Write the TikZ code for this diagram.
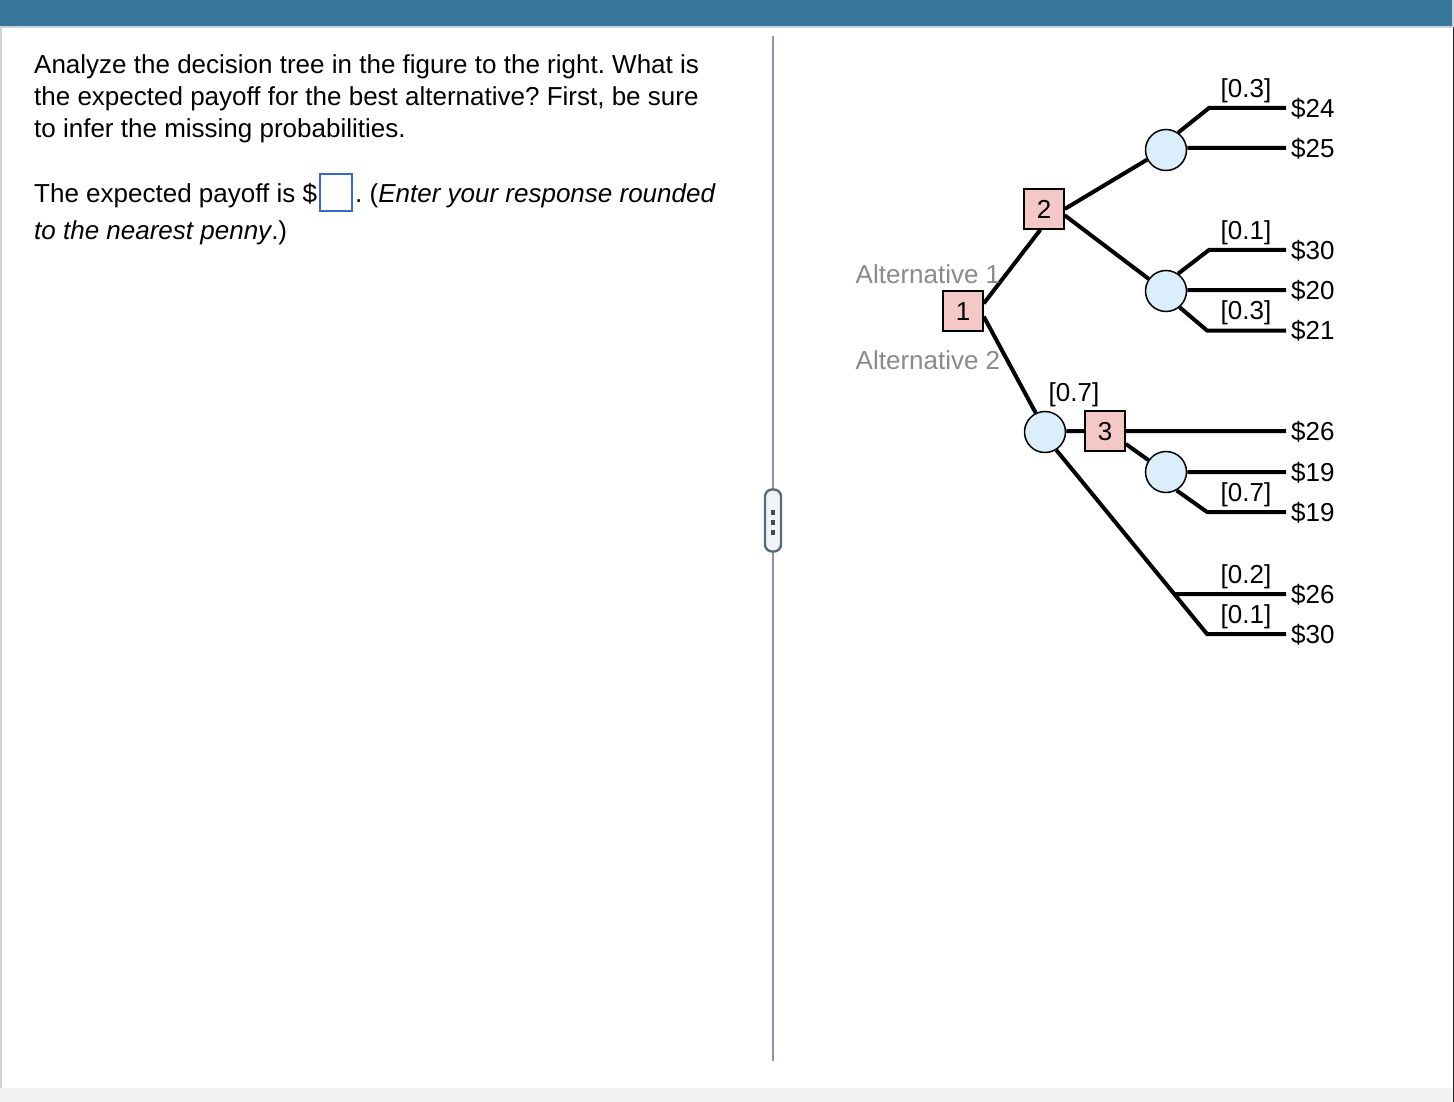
\documentclass[tikz,border=0pt]{standalone}
\usepackage{fontspec}
\setmainfont{Liberation Sans}
\definecolor{bandblue}{HTML}{37779A}
\definecolor{bandline}{HTML}{C9D2DF}
\definecolor{sidebar}{HTML}{CED3E0}
\definecolor{footgray}{HTML}{F2F2F2}
\definecolor{rulegray}{HTML}{8C93A5}
\definecolor{handleedge}{HTML}{5C6B7C}
\definecolor{handlefill}{HTML}{F2F3F5}
\definecolor{answerblue}{HTML}{3B66C4}
\definecolor{boxpink}{HTML}{F5C8C8}
\definecolor{circblue}{HTML}{DAEEFB}
\definecolor{altgray}{HTML}{8A8A8A}

\begin{document}
\frenchspacing
\begin{tikzpicture}[x = 1pt, y = -1pt,
    txt/.style = {inner sep = 0pt, font = \fontsize{26}{32}\selectfont},
    decision/.style = {draw, line width = 1.5pt, fill = boxpink, minimum size = 40pt, inner sep = 0pt, text height = 19.6pt, text depth = 0pt, font = \fontsize{26}{32}\selectfont},
    chance/.style = {draw, circle, line width = 1.5pt, fill = circblue, minimum size = 41pt, inner sep = 0pt},
    branch/.style = {line width = 4pt},
    payoff/.style = {txt, anchor = west, inner xsep = 5pt, text height = 21pt, text depth = 2.4pt},
    prob/.style = {txt},
    altlabel/.style = {txt, anchor = west, text = altgray},
    dot/.style = {fill = black!72, minimum size = 4.6pt, inner sep = 0pt}]
    \useasboundingbox (0,0) rectangle (1454,1102);
    \fill[white] (0,0) rectangle (1454,1102);
    \fill[bandblue] (0,0) rectangle (1452,26);
    \fill[bandline] (0,26) rectangle (1452,28);
    \fill[bandline] (1452,0) rectangle (1454,27);
    \fill[sidebar] (0,28) rectangle (2,1088);
    \fill[footgray] (0,1088) rectangle (1452.5,1102);
    \fill[black!85] (1452.5,27) rectangle (1454,1102);
    \draw[rulegray, line width = 2pt] (773,36) -- (773,1061);

    \node[draw = handleedge, fill = handlefill, line width = 2.4pt, rounded corners = 7pt, minimum width = 16pt, minimum height = 62pt, inner sep = 0pt] (handle) at (773,520.5) {};
    \node[dot] (dota) at (773,512.5) {};
    \node[dot] (dotb) at (773,522.5) {};
    \node[dot] (dotc) at (773,532.5) {};

    \node[txt, anchor = north west, align = left] (question) at (34,54.5) {Analyze the decision tree in the figure to the right. What is\\the expected payoff for the best alternative? First, be sure\\to infer the missing probabilities.};
    \node[txt, anchor = base west] (payoffis) at (34,203) {The expected payoff is \$};
    \node[draw = answerblue, line width = 2pt, minimum width = 32pt, minimum height = 37pt, inner sep = 0pt] (answer) at (336,193) {};
    \node[txt, anchor = base west] (rounded) at (355,203) {. (\textit{Enter your response rounded}};
    \node[txt, anchor = base west] (penny) at (34,240) {\textit{to the nearest penny}.)};

    \node[decision] (n1) at (963,311) {1};
    \node[decision] (n2) at (1044,209) {2};
    \node[decision] (n3) at (1105,431) {3};
    \node[chance] (c1) at (1166,150) {};
    \node[chance] (c2) at (1166,291) {};
    \node[chance] (c3) at (1045,432) {};
    \node[chance] (c4) at (1166,472) {};

    \coordinate (e1) at (1209,108);
    \coordinate (e2) at (1209,250);
    \coordinate (e3) at (1207,330.5);
    \coordinate (e4) at (1207,512);
    \coordinate (e5) at (1175,594);
    \coordinate (e6) at (1207,634);

    \node[payoff] (p1) at (1286,108) {\$24};
    \node[payoff] (p2) at (1286,148) {\$25};
    \node[payoff] (p3) at (1286,250) {\$30};
    \node[payoff] (p4) at (1286,290) {\$20};
    \node[payoff] (p5) at (1286,330.5) {\$21};
    \node[payoff] (p6) at (1286,431) {\$26};
    \node[payoff] (p7) at (1286,472) {\$19};
    \node[payoff] (p8) at (1286,512) {\$19};
    \node[payoff] (p9) at (1286,594) {\$26};
    \node[payoff] (p10) at (1286,634) {\$30};

    \draw[branch]
    (n1.20) -- (n2.-100)
    (n1.-15) -- (c3.116)
    (n2.0) -- (c1.207)
    (n2.-17) -- (c2.145)
    (n3.west) -- (n3.west -| c3.east)
    (n3.-32) -- (c4.146);
    \draw[branch]
    (c1.55) -- (e1) -- (p1.west)
    (p2.west) -- (p2.west -| c1.east)
    (c2.55) -- (e2) -- (p3.west)
    (p4.west) -- (p4.west -| c2.east)
    (c2.-50) -- (e3) -- (p5.west)
    (n3.east) -- (p6.west)
    (c4.0) -- (p7.west)
    (c4.-60) -- (e4) -- (p8.west)
    (c3.-58) -- (e6) -- (p10.west)
    (e5) -- (p9.west);

    \node[altlabel] (alta) at (855.5,274) {Alternative 1};
    \node[altlabel] (altb) at (855.5,360) {Alternative 2};
    \node[prob] (q1) at (1246,91) {[0.3]};
    \node[prob] (q2) at (1246,233) {[0.1]};
    \node[prob] (q3) at (1246,313) {[0.3]};
    \node[prob] (q4) at (1074,395) {[0.7]};
    \node[prob] (q5) at (1246,495) {[0.7]};
    \node[prob] (q6) at (1246,577) {[0.2]};
    \node[prob] (q7) at (1246,617) {[0.1]};
\end{tikzpicture}
\end{document}
